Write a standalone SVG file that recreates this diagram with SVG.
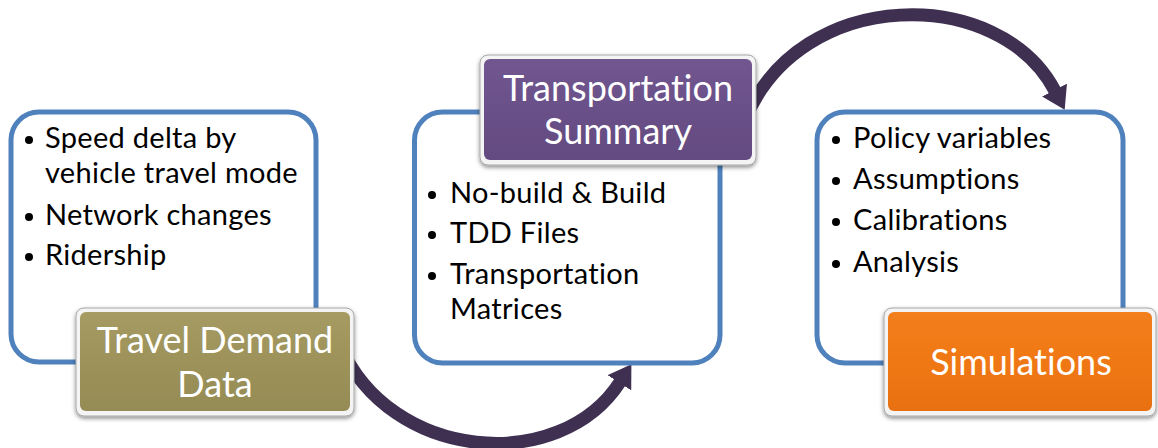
<svg xmlns="http://www.w3.org/2000/svg" width="1158" height="448" viewBox="0 0 1158 448">
<defs>
<style>
.panel{fill:#fff;stroke:#4f81bd;stroke-width:5}
.bul{font-family:Lato,"Open Sans","Liberation Sans",sans-serif;font-size:29px;letter-spacing:0.3px;fill:#000;font-variant-ligatures:none}
.dot{fill:#000}
.lbl{font-family:Lato,"Open Sans","Liberation Sans",sans-serif;font-size:36px;fill:#fff;text-anchor:middle;font-variant-ligatures:none}
.bevel{fill:#f4f4f4;stroke:#a8a8a8;stroke-width:1}
.arrow{fill:none;stroke:#3f3052;stroke-width:13}
</style>
<linearGradient id="gOlive" x1="0" y1="0" x2="0" y2="1">
<stop offset="0" stop-color="#a59b63"/><stop offset="0.5" stop-color="#9c925a"/><stop offset="1" stop-color="#958b54"/>
</linearGradient>
<linearGradient id="gPurple" x1="0" y1="0" x2="0" y2="1">
<stop offset="0" stop-color="#71568f"/><stop offset="0.5" stop-color="#6a5088"/><stop offset="1" stop-color="#634a80"/>
</linearGradient>
<linearGradient id="gOrange" x1="0" y1="0" x2="0" y2="1">
<stop offset="0" stop-color="#f27f1c"/><stop offset="0.5" stop-color="#f07814"/><stop offset="1" stop-color="#e87010"/>
</linearGradient>
<filter id="sh" x="-10%" y="-10%" width="120%" height="130%">
<feDropShadow dx="0" dy="2" stdDeviation="2" flood-color="#000" flood-opacity="0.45"/>
</filter>
<marker id="head" viewBox="0 0 22 28" refX="1" refY="14" markerWidth="22" markerHeight="28" markerUnits="userSpaceOnUse" orient="auto">
<path d="M0,0 L22,14 L0,28 z" fill="#3f3052"/>
</marker>
</defs>
<rect width="1158" height="448" fill="#fff"/>

<g id="connectors">
<path class="arrow" d="M340,345 C390,462 560,475 620,382" marker-end="url(#head)"/>
<path class="arrow" d="M745,120 C800,-15 1000,-15 1055,91" marker-end="url(#head)"/>
</g>

<g id="panel-left">
<rect class="panel" x="11" y="112" width="305" height="250" rx="28"/>
<circle class="dot" cx="29" cy="140" r="4"/>
<text class="bul" x="45" y="148">Speed delta by</text>
<text class="bul" x="45" y="183">vehicle travel mode</text>
<circle class="dot" cx="29" cy="217" r="4"/>
<text class="bul" x="45" y="225">Network changes</text>
<circle class="dot" cx="29" cy="257" r="4"/>
<text class="bul" x="45" y="265">Ridership</text>
</g>

<g id="panel-middle">
<rect class="panel" x="414.5" y="112" width="305.5" height="251" rx="28"/>
<circle class="dot" cx="432" cy="195" r="4"/>
<text class="bul" x="450" y="203">No-build &amp; Build</text>
<circle class="dot" cx="432" cy="235" r="4"/>
<text class="bul" x="450" y="243">TDD Files</text>
<circle class="dot" cx="432" cy="276" r="4"/>
<text class="bul" x="450" y="284">Transportation</text>
<text class="bul" x="450" y="319">Matrices</text>
</g>

<g id="panel-right">
<rect class="panel" x="817" y="112" width="306" height="251" rx="28"/>
<circle class="dot" cx="836" cy="140" r="4"/>
<text class="bul" x="853" y="148">Policy variables</text>
<circle class="dot" cx="836" cy="181" r="4"/>
<text class="bul" x="853" y="189">Assumptions</text>
<circle class="dot" cx="836" cy="222" r="4"/>
<text class="bul" x="853" y="230">Calibrations</text>
<circle class="dot" cx="836" cy="264" r="4"/>
<text class="bul" x="853" y="272">Analysis</text>
</g>

<g id="node-travel-demand">
<rect class="bevel" x="76" y="308" width="278" height="108" rx="8" filter="url(#sh)"/>
<rect x="80" y="312" width="270" height="99" rx="6" fill="url(#gOlive)"/>
<text class="lbl" x="215" y="353">Travel Demand</text>
<text class="lbl" x="215" y="397">Data</text>
</g>

<g id="node-transportation-summary">
<rect class="bevel" x="480" y="55" width="276" height="110" rx="8" filter="url(#sh)"/>
<rect x="484" y="59" width="268" height="101" rx="6" fill="url(#gPurple)"/>
<text class="lbl" x="618" y="101">Transportation</text>
<text class="lbl" x="618" y="144">Summary</text>
</g>

<g id="node-simulations">
<rect class="bevel" x="884" y="308" width="272" height="108" rx="8" filter="url(#sh)"/>
<rect x="888" y="312" width="264" height="99" rx="6" fill="url(#gOrange)"/>
<text class="lbl" x="1021" y="375">Simulations</text>
</g>
</svg>
